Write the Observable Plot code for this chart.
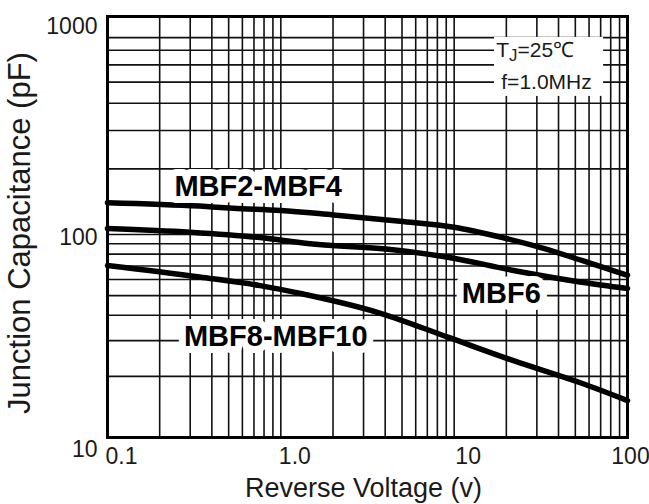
<!DOCTYPE html>
<html><head><meta charset="utf-8">
<script src="https://cdn.jsdelivr.net/npm/d3@7"></script>
<script src="https://cdn.jsdelivr.net/npm/@observablehq/plot@0.6"></script>
<style>body{margin:0;background:#fff} svg{display:block}</style>
</head><body><div id="chart"></div>
<script>
// Tick values and labels
const xTickVals = [0.1, 1, 10, 100];
const xTickLabels = ["0.1", "1.0", "10", "100"];
const yTickVals = [10, 100, 1000];
const yTickLabels = ["10", "100", "1000"];

// Log grid: multiples of each decade
const gridMults = [1, 2, 3, 4, 5, 6, 7, 8, 9];
const xDecades = [0.1, 1, 10];
const yDecades = [10, 100];

// Series: reverse voltage (V) and junction capacitance (pF)
const vMBF2 = [0.1, 0.34, 0.53, 1, 2, 4.9, 10, 19.5, 32, 54.5, 100];
const cMBF2 = [140, 135, 132, 129, 123, 115, 108, 96, 86, 74.5, 63];
const vMBF6 = [0.1, 0.3, 0.76, 1.43, 4.3, 9.2, 22, 54.5, 100];
const cMBF6 = [106.6, 102.5, 96.6, 90.3, 84.4, 77.3, 66.5, 58.2, 54.2];
const vMBF8 = [0.1, 0.34, 0.76, 1.3, 3.8, 9.2, 22, 54.5, 100];
const cMBF8 = [70.3, 61.7, 56, 51.2, 40.8, 31.2, 23.9, 18.5, 15.2];

// Series labels
const seriesNames = ["MBF2-MBF4", "MBF6", "MBF8-MBF10"];
const seriesLabelV = [0.74, 18.7, 0.935];
const seriesLabelC = [166, 51, 31.4];

// Conditions (text) and the white box behind them
const condText = ["TJ=25℃", "f=1.0MHz"];
const condV = [17.5, 18.7];
const condC = [700, 498];
const condBoxV = [17.1, 72.8];
const condBoxC = [430, 802];

const xGrid = xDecades.flatMap(d => gridMults.map(m => +(d * m).toPrecision(3))).concat([100]);
const yGrid = yDecades.flatMap(d => gridMults.map(m => d * m)).filter(v => v !== 900).concat([1000]);

const lines = [
  ...vMBF2.map((v, i) => ({series: seriesNames[0], v, c: cMBF2[i]})),
  ...vMBF6.map((v, i) => ({series: seriesNames[1], v, c: cMBF6[i]})),
  ...vMBF8.map((v, i) => ({series: seriesNames[2], v, c: cMBF8[i]}))
];
const seriesLabels = seriesNames.map((t, i) => ({t, v: seriesLabelV[i], c: seriesLabelC[i]}));
const conds = condText.map((t, i) => ({t, v: condV[i], c: condC[i]}));
const condBox = [{x1: condBoxV[0], x2: condBoxV[1], y1: condBoxC[0], y2: condBoxC[1]}];

const xfmt = d => xTickLabels[xTickVals.indexOf(d)];
const yfmt = d => yTickLabels[yTickVals.indexOf(d)];
const ink = "#1a1a1a";
const tickFont = 23;

const chart = Plot.plot({
  width: 649, height: 504,
  marginLeft: 107, marginRight: 22, marginTop: 16, marginBottom: 67,
  x: {type: "log", domain: [0.1, 100]},
  y: {type: "log", domain: [10, 100, 1000], range: [437, 234, 16]},
  style: {fontFamily: "'Liberation Sans', Arial, sans-serif", background: "white", color: ink},
  marks: [
    Plot.ruleX(xGrid, {stroke: "#111", strokeWidth: 1.6}),
    Plot.ruleY(yGrid, {stroke: "#111", strokeWidth: 1.6}),
    Plot.rect(condBox, {x1: "x1", x2: "x2", y1: "y1", y2: "y2", fill: "white"}),
    Plot.line(lines, {x: "v", y: "c", z: "series", stroke: "#000", strokeWidth: 5.5, curve: "monotone-x"}),
    Plot.text(seriesLabels, {x: "v", y: "c", text: "t", fontSize: 29, fontWeight: "bold", fill: "#000",
      stroke: "white", strokeWidth: 14, strokeLinejoin: "round"}),
    Plot.text(conds, {x: "v", y: "c", text: "t", fontSize: 21, textAnchor: "start", fill: ink, className: "cond-fill"}),
    Plot.frame({stroke: "#000", strokeWidth: 3}),
    Plot.axisX([0.1, 1, 10], {tickSize: 0, tickPadding: 10, dx: 14, fontSize: tickFont, fill: ink, tickFormat: xfmt, label: null}),
    Plot.axisX([100], {tickSize: 0, tickPadding: 10, dx: 3, fontSize: tickFont, fill: ink, tickFormat: xfmt, label: null}),
    Plot.axisY([1000], {tickSize: 0, tickPadding: 10, dy: 10, fontSize: tickFont, fill: ink, tickFormat: yfmt, label: null}),
    Plot.axisY([100], {tickSize: 0, tickPadding: 10, dy: 3, fontSize: tickFont, fill: ink, tickFormat: yfmt, label: null}),
    Plot.axisY([10], {tickSize: 0, tickPadding: 10, dy: 12, fontSize: tickFont, fill: ink, tickFormat: yfmt, label: null}),
    Plot.text(["Reverse Voltage (v)"], {frameAnchor: "bottom", textAnchor: "middle", lineAnchor: "middle", dy: 51, dx: -4, fontSize: 27, fill: ink}),
    Plot.text(["Junction Capacitance (pF)"], {frameAnchor: "left", textAnchor: "middle", lineAnchor: "middle", rotate: -90, dx: -87, dy: 6, fontSize: 31, fill: ink})
  ]
});

// Subscript J in "TJ"
chart.querySelectorAll(".cond-fill text").forEach(el => {
  if (el.textContent === "TJ=25℃") {
    el.textContent = "";
    const ns = "http://www.w3.org/2000/svg";
    const a = document.createElementNS(ns, "tspan"); a.textContent = "T";
    const b = document.createElementNS(ns, "tspan"); b.textContent = "J";
    b.setAttribute("font-size", "0.8em"); b.setAttribute("dy", "0.22em");
    const c = document.createElementNS(ns, "tspan"); c.textContent = "=25℃";
    c.setAttribute("dy", "-0.18em");
    el.append(a, b, c);
  }
});
document.getElementById("chart").append(chart);
</script>
</body></html>
